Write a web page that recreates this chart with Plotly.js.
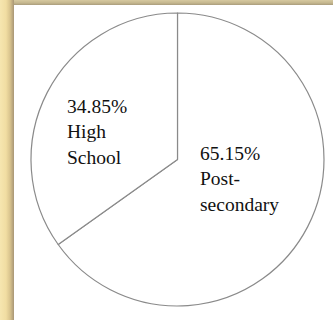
<!DOCTYPE html>
<html>
<head>
<meta charset="utf-8">
<script src="https://cdn.plot.ly/plotly-3.0.1.min.js"></script>
<style>
  html, body { margin: 0; padding: 0; width: 333px; height: 320px; overflow: hidden; background: #f4e2aa; }
  #leftband { position: absolute; left: 0; top: 0; width: 14px; height: 320px;
    background: linear-gradient(to right, #f6e6b0 0px, #f1dda2 6px, #d9c48e 10px, #a89676 14px); }
  #topband { position: absolute; left: 14px; top: 0; width: 319px; height: 5px;
    background: linear-gradient(to bottom, #d6c9a0 0px, #c4b68e 3px, #a99c7c 5px); }
  #paper { position: absolute; left: 14px; top: 5px; width: 319px; height: 315px; background: #ffffff; }
  #chart { position: absolute; left: 0; top: 0; width: 333px; height: 320px; }
  #chart text { font-family: "Liberation Serif", "DejaVu Serif", serif !important; }
</style>
</head>
<body>
<div id="leftband"></div>
<div id="topband"></div>
<div id="paper"></div>
<div id="chart"></div>
<script>
// Data
var categories = ["Post-secondary", "High School"];
var values = [65.15, 34.85];
var labelLines = [["Post-", "secondary"], ["High", "School"]];

var W = 333, H = 320;
var cx = 177.5, cy = 159.5, r = 146.5;
var serif = "Liberation Serif, DejaVu Serif, serif";

var trace = {
  type: "pie",
  labels: categories,
  values: values,
  sort: false,
  direction: "clockwise",
  rotation: 0,
  textinfo: "none",
  hoverinfo: "label+percent",
  marker: { colors: ["#ffffff", "#ffffff"], line: { color: "#8a8a8a", width: 1.2 } },
  domain: { x: [(cx - r) / W, (cx + r) / W], y: [(H - cy - r) / H, (H - cy + r) / H] },
  showlegend: false
};

// label placement (layout only)
var labelPos = [ { x: 198, y: 178.5 }, { x: 64.5, y: 132 } ];

var annotations = categories.map(function (c, i) {
  return {
    xref: "paper", yref: "paper",
    x: labelPos[i].x / W, y: 1 - labelPos[i].y / H,
    xanchor: "left", yanchor: "middle", align: "left",
    showarrow: false,
    text: values[i].toFixed(2) + "%<br>" + labelLines[i].join("<br>"),
    font: { family: serif, size: 19.5, color: "#111111" }
  };
});

var layout = {
  width: W, height: H,
  margin: { l: 0, r: 0, t: 0, b: 0 },
  font: { family: serif, size: 19.5, color: "#111111" },
  paper_bgcolor: "rgba(0,0,0,0)",
  plot_bgcolor: "rgba(0,0,0,0)",
  annotations: annotations
};

Plotly.newPlot("chart", [trace], layout, { displayModeBar: false, staticPlot: true });
</script>
</body>
</html>
